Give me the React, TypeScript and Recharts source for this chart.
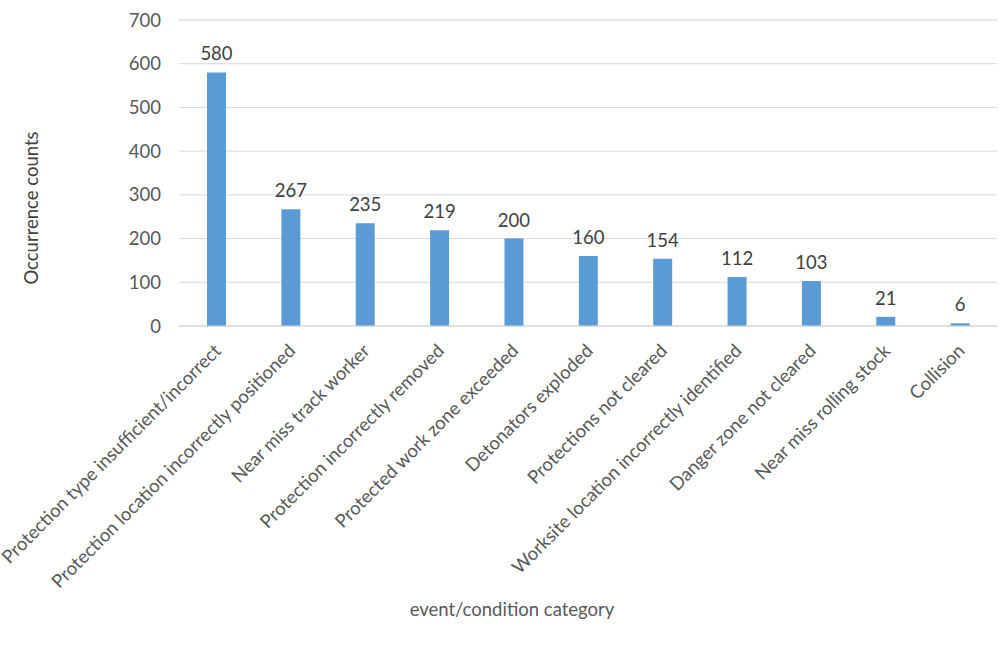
import { Bar, BarChart, CartesianGrid, LabelList, XAxis, YAxis } from "recharts";

const categories = [
  "Protection type insufficient/incorrect",
  "Protection location incorrectly positioned",
  "Near miss track worker",
  "Protection incorrectly removed",
  "Protected work zone exceeded",
  "Detonators exploded",
  "Protections not cleared",
  "Worksite location incorrectly identified",
  "Danger zone not cleared",
  "Near miss rolling stock",
  "Collision",
];

const counts = [580, 267, 235, 219, 200, 160, 154, 112, 103, 21, 6];

const majorTicks = [0, 100, 200, 300, 400, 500, 600, 700];
const minorTicks = [
  0, 20, 40, 60, 80, 100, 120, 140, 160, 180, 200, 220, 240, 260, 280, 300, 320, 340, 360,
  380, 400, 420, 440, 460, 480, 500, 520, 540, 560, 580, 600, 620, 640, 660, 680, 700,
];

const data = categories.map((name, i) => ({ name, count: counts[i] }));

const FONT = "Lato, 'Open Sans', sans-serif";
const GREY = "#595959";
const SIZE = 18.5;

function CategoryTick(props: any) {
  const { x, y, payload } = props;
  return (
    <g transform={`translate(${x + 6},${y + 18})`}>
      <text
        x={0}
        y={0}
        textAnchor="end"
        transform="rotate(-45)"
        fill={GREY}
        fontSize={SIZE}
        fontFamily={FONT}
      >
        {payload.value}
      </text>
    </g>
  );
}

export default function App() {
  return (
    <div style={{ position: "absolute", left: 0, top: 0, width: 999, height: 650, background: "#fff" }}>
      <BarChart
        width={999}
        height={650}
        data={data}
        margin={{ top: 20, right: 2, left: 0, bottom: 0 }}
        style={{ fontFamily: FONT }}
      >
        <CartesianGrid yAxisId="minor" vertical={false} stroke="#e9e9e9" />
        <CartesianGrid vertical={false} stroke="#d9d9d9" />
        <XAxis
          dataKey="name"
          interval={0}
          height={324}
          axisLine={{ stroke: "#d9d9d9" }}
          tickLine={false}
          tick={<CategoryTick />}
          label={{
            content: () => (
              <text x={512} y={616} textAnchor="middle" fill={GREY} fontSize={SIZE} fontFamily={FONT}>
                event/condition category
              </text>
            ),
          }}
        />
        <YAxis
          width={179}
          domain={[0, 700]}
          ticks={majorTicks}
          interval={0}
          axisLine={false}
          tickLine={false}
          tickMargin={12}
          tick={{ fill: GREY, fontSize: SIZE, fontFamily: FONT }}
          label={{
            content: () => (
              <text
                x={38}
                y={208}
                textAnchor="middle"
                transform="rotate(-90 38 208)"
                fill="#404040"
                fontSize={SIZE}
                fontFamily={FONT}
              >
                Occurrence counts
              </text>
            ),
          }}
        />
        <YAxis
          yAxisId="minor"
          orientation="right"
          width={0}
          domain={[0, 700]}
          ticks={minorTicks}
          interval={0}
          axisLine={false}
          tickLine={false}
          tick={false}
        />
        <Bar dataKey="count" fill="#5b9bd5" barSize={19} isAnimationActive={false}>
          <LabelList
            dataKey="count"
            position="top"
            offset={12}
            fill="#404040"
            fontSize={SIZE}
            fontFamily={FONT}
          />
        </Bar>
      </BarChart>
    </div>
  );
}
